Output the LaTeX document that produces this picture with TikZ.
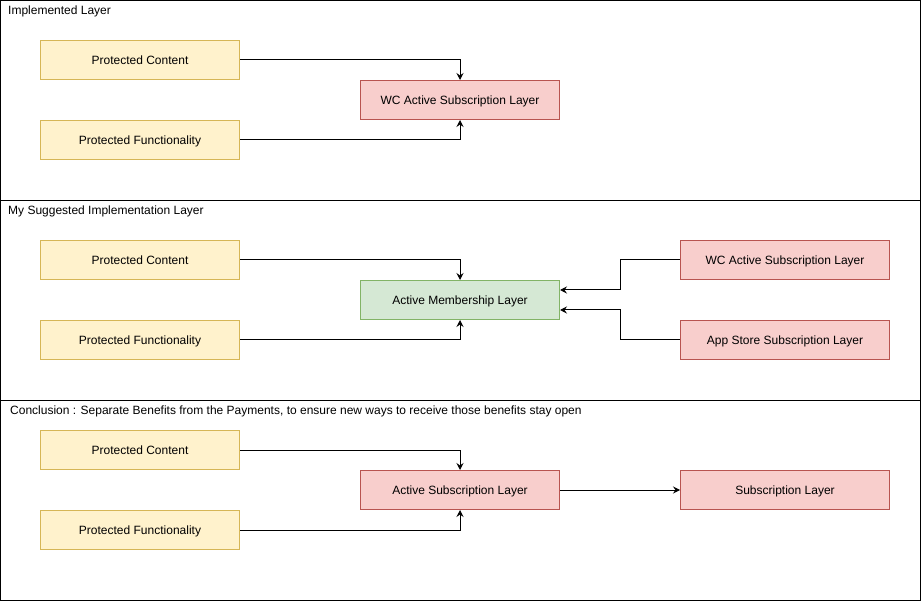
\documentclass[tikz,border=0pt]{standalone}
\usepackage{fontspec}
\setmainfont{Liberation Sans}
\usepackage{tikz}
\usetikzlibrary{positioning}
\usetikzlibrary{arrows.meta}
\definecolor{benefitfill}{HTML}{FFF2CC}
\definecolor{benefitline}{HTML}{D6B656}
\definecolor{payfill}{HTML}{F8CECC}
\definecolor{payline}{HTML}{B85450}
\definecolor{memberfill}{HTML}{D5E8D4}
\definecolor{memberline}{HTML}{82B366}

\begin{document}
\begin{tikzpicture}[x=1pt, y=-1pt,
    every node/.style={font=\fontsize{12}{14}\selectfont},
    box/.style={draw, line width=1pt, minimum width=199pt, minimum height=39pt, inner sep=0pt, text height=9.3pt, text depth=0pt},
    benefit/.style={box, fill=benefitfill, draw=benefitline},
    payment/.style={box, fill=payfill, draw=payline},
    member/.style={box, fill=memberfill, draw=memberline},
    frame/.style={draw, line width=1pt},
    title/.style={anchor=west, inner sep=0pt},
    link/.style={draw, line width=1pt, -{Stealth[length=7pt, width=7pt, inset=2.5pt]}}]
    %
    \useasboundingbox (0,0) rectangle (921,601);
    %
    \draw[frame] (0.5,0.5) rectangle (920.5,200.5);
    \draw[frame] (0.5,200.5) rectangle (920.5,400.5);
    \draw[frame] (0.5,400.5) rectangle (920.5,600.5);
    %
    % implemented
    \node[title] (t1) at (8,11.5) {Implemented Layer};
    \node[benefit] (pc1) at (140,60) {Protected Content};
    \node[benefit] (pf1) at (140,140) {Protected Functionality};
    \node[payment] (wc1) at (460,100) {WC Active Subscription Layer};
    \draw[link] (pc1.east) -| (wc1.north);
    \draw[link] (pf1.east) -| (wc1.south);
    %
    % suggested
    \node[title] (t2) at (8,211.5) {My Suggested Implementation Layer};
    \node[benefit] (pc2) at (140,260) {Protected Content};
    \node[benefit] (pf2) at (140,340) {Protected Functionality};
    \node[member] (am2) at (460,300) {Active Membership Layer};
    \node[payment, minimum width=209pt] (wc2) at (785,260) {WC Active Subscription Layer};
    \node[payment, minimum width=209pt] (as2) at (785,340) {App Store Subscription Layer};
    \draw[link] (pc2.east) -| (am2.north);
    \draw[link] (pf2.east) -| (am2.south);
    \draw[link] (wc2.west) -- ++(-60,0) |- ([yshift=10pt]am2.east);
    \draw[link] (as2.west) -- ++(-60,0) |- ([yshift=-10pt]am2.east);
    %
    % conclusion
    \node[title] (t3) at (10,411.5) {Conclusion : Separate Benefits from the Payments, to ensure new ways to receive those benefits stay open};
    \node[benefit] (pc3) at (140,450) {Protected Content};
    \node[benefit] (pf3) at (140,530) {Protected Functionality};
    \node[payment] (as3) at (460,490) {Active Subscription Layer};
    \node[payment, minimum width=209pt] (sl3) at (785,490) {Subscription Layer};
    \draw[link] (pc3.east) -| (as3.north);
    \draw[link] (pf3.east) -| (as3.south);
    \draw[link] (as3.east) -- (sl3.west);
\end{tikzpicture}
\end{document}
